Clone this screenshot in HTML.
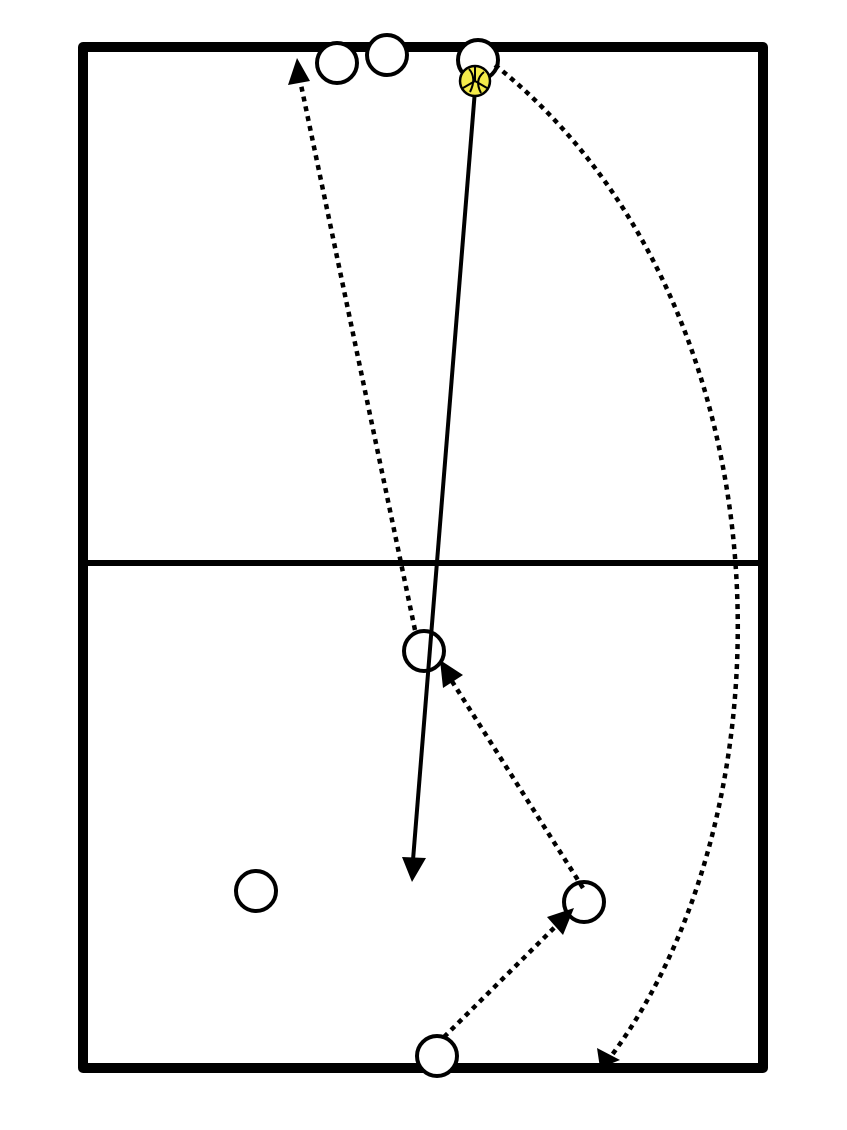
<!DOCTYPE html>
<html><head><style>html,body{margin:0;padding:0;background:#fff}</style></head>
<body>
<svg width="847" height="1125" viewBox="0 0 847 1125" xmlns="http://www.w3.org/2000/svg">
<rect x="83" y="47" width="680" height="1021" fill="none" stroke="#000" stroke-width="10" stroke-linejoin="round"/>
<line x1="83" y1="563" x2="763" y2="563" stroke="#000" stroke-width="6"/>
<g fill="#fff" stroke="#000" stroke-width="4">
<circle cx="337" cy="63" r="20"/>
<circle cx="387" cy="55" r="20"/>
<circle cx="478" cy="60" r="20"/>
<circle cx="424" cy="651" r="20"/>
<circle cx="584" cy="902" r="20"/>
<circle cx="256" cy="891" r="20"/>
<circle cx="437" cy="1056" r="20"/>
</g>
<g fill="none" stroke="#000" stroke-width="4.5" stroke-dasharray="5,5">
<line x1="415" y1="630" x2="300" y2="80"/>
<line x1="583" y1="888" x2="448" y2="675"/>
<line x1="444" y1="1037" x2="560" y2="922"/>
<path d="M495,65 C790,300 800,800 612,1055"/>
</g>
<line x1="475" y1="90" x2="413" y2="860" stroke="#000" stroke-width="4"/>
<g fill="#000">
<polygon points="297,58 288,85 310,81"/>
<polygon points="402,857 426,858 412,882"/>
<polygon points="440,660 443,688 463,675"/>
<polygon points="574,908 547,917 563,935"/>
<polygon points="600,1068 597,1048 620,1060"/>
</g>
<circle cx="475" cy="81" r="15" fill="#f4ea4a" stroke="#000" stroke-width="2.5"/>
<g fill="none" stroke="#000" stroke-width="2">
<path d="M475,81 L475,67 M475,81 L463,88 M475,81 L487,88"/>
<path d="M469,69 Q477,78 470,92 M484,72 Q474,80 481,93"/>
</g>
</svg>
</body></html>
